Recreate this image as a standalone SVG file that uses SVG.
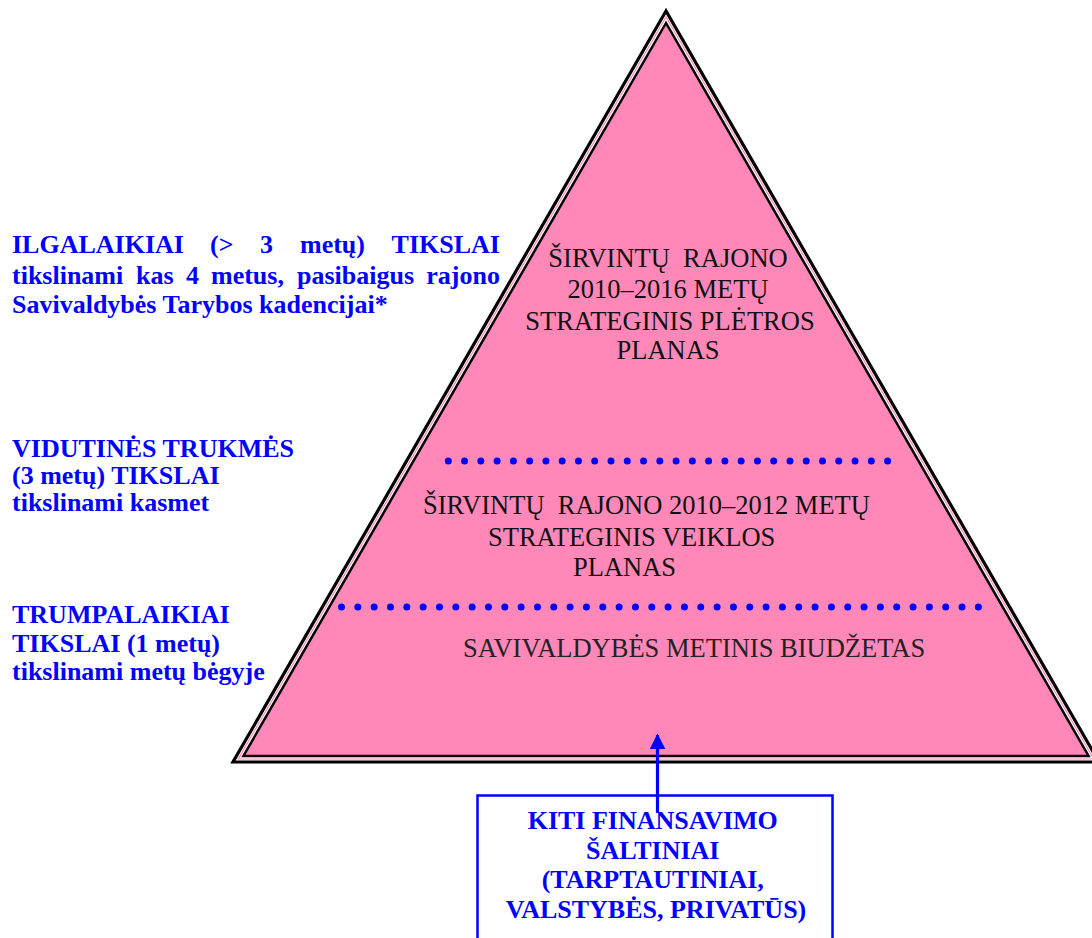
<svg xmlns="http://www.w3.org/2000/svg" width="1092" height="938" viewBox="0 0 1092 938">
  <defs>
    <style>
      text { font-family: 'Liberation Serif', 'Times New Roman', 'DejaVu Serif', serif; }
      .lbl { font-size: 26px; font-weight: bold; fill: #0000FF; }
      .tri { font-size: 26.5px; fill: #111111; }
      .tri-s { font-size: 26.5px; fill: #222222; }
      .box { font-size: 26px; font-weight: bold; fill: #0000FF; text-anchor: middle; }
      .dots { stroke: #0000FF; stroke-width: 7; stroke-linecap: round; fill: none; }
    </style>
    <marker id="arrowhead" viewBox="0 0 10 10" refX="9" refY="5" markerWidth="5" markerHeight="5" markerUnits="strokeWidth" orient="auto">
      <path d="M0,0 L10,5 L0,10 z" fill="#0000FF"/>
    </marker>
  </defs>
  <rect width="1092" height="938" fill="#FFFFFF"/>

  <g id="pyramid">
    <polygon points="666,11 233,762 1099,762" fill="#FFFFFF" stroke="#000000" stroke-width="3.2"/>
    <polygon points="666,17 238.2,759 1093.8,759" fill="none" stroke="#FF88B8" stroke-width="1.2"/>
    <polygon points="666,23 243.4,756 1088.6,756" fill="#FF88B8" stroke="#000000" stroke-width="2.5"/>
    <line class="dots" x1="448.3" y1="461" x2="887.6" y2="461" stroke-dasharray="0 16.27"/>
    <line class="dots" x1="341.5" y1="607" x2="978.4" y2="607" stroke-dasharray="0 16.33"/>
  </g>

  <g id="level-top">
    <text class="tri" text-anchor="middle" x="668" y="267">ŠIRVINTŲ&#160; RAJONO</text>
    <text class="tri" text-anchor="middle" x="668" y="298">2010–2016 METŲ</text>
    <text class="tri" text-anchor="middle" x="670" y="330">STRATEGINIS PLĖTROS</text>
    <text class="tri" text-anchor="middle" x="668" y="359">PLANAS</text>
  </g>

  <g id="level-middle">
    <text class="tri" x="423" y="514">ŠIRVINTŲ&#160; RAJONO 2010–2012 METŲ</text>
    <text class="tri" x="488" y="546">STRATEGINIS VEIKLOS</text>
    <text class="tri" x="573" y="576">PLANAS</text>
  </g>

  <g id="level-bottom">
    <text class="tri-s" x="463" y="657">SAVIVALDYBĖS METINIS BIUDŽETAS</text>
  </g>

  <g id="label-long">
    <text class="lbl">
      <tspan x="12" y="253">ILGALAIKIAI</tspan>
      <tspan x="210" y="253">(&gt;</tspan>
      <tspan x="260" y="253">3</tspan>
      <tspan x="300" y="253">metų)</tspan>
      <tspan x="500" y="253" text-anchor="end">TIKSLAI</tspan>
    </text>
    <text class="lbl">
      <tspan x="12" y="284">tikslinami</tspan>
      <tspan x="136" y="284">kas</tspan>
      <tspan x="186" y="284">4</tspan>
      <tspan x="211" y="284">metus,</tspan>
      <tspan x="297" y="284">pasibaigus</tspan>
      <tspan x="500" y="284" text-anchor="end">rajono</tspan>
    </text>
    <text class="lbl" x="12" y="313">Savivaldybės Tarybos kadencijai*</text>
  </g>

  <g id="label-medium">
    <text class="lbl">
      <tspan x="12" y="457">VIDUTINĖS TRUKMĖS</tspan>
      <tspan x="12" y="484">(3 metų) TIKSLAI</tspan>
      <tspan x="12" y="511">tikslinami kasmet</tspan>
    </text>
  </g>

  <g id="label-short">
    <text class="lbl">
      <tspan x="12" y="623">TRUMPALAIKIAI</tspan>
      <tspan x="12" y="652">TIKSLAI (1 metų)</tspan>
      <tspan x="12" y="680">tikslinami metų bėgyje</tspan>
    </text>
  </g>

  <g id="funding-box">
    <rect x="477.5" y="795.5" width="355" height="160" fill="#FFFFFF" stroke="#0000FF" stroke-width="2.5"/>
    <text class="box">
      <tspan x="656" y="829">KITI FINANSAVIMO</tspan>
      <tspan x="656" y="859">ŠALTINIAI</tspan>
      <tspan x="656" y="888">(TARPTAUTINIAI,</tspan>
      <tspan x="656" y="918">VALSTYBĖS, PRIVATŪS)</tspan>
    </text>
  </g>

  <g id="connectors">
    <line x1="657.5" y1="812" x2="657.5" y2="735" stroke="#0000FF" stroke-width="3.2" marker-end="url(#arrowhead)"/>
  </g>
</svg>
